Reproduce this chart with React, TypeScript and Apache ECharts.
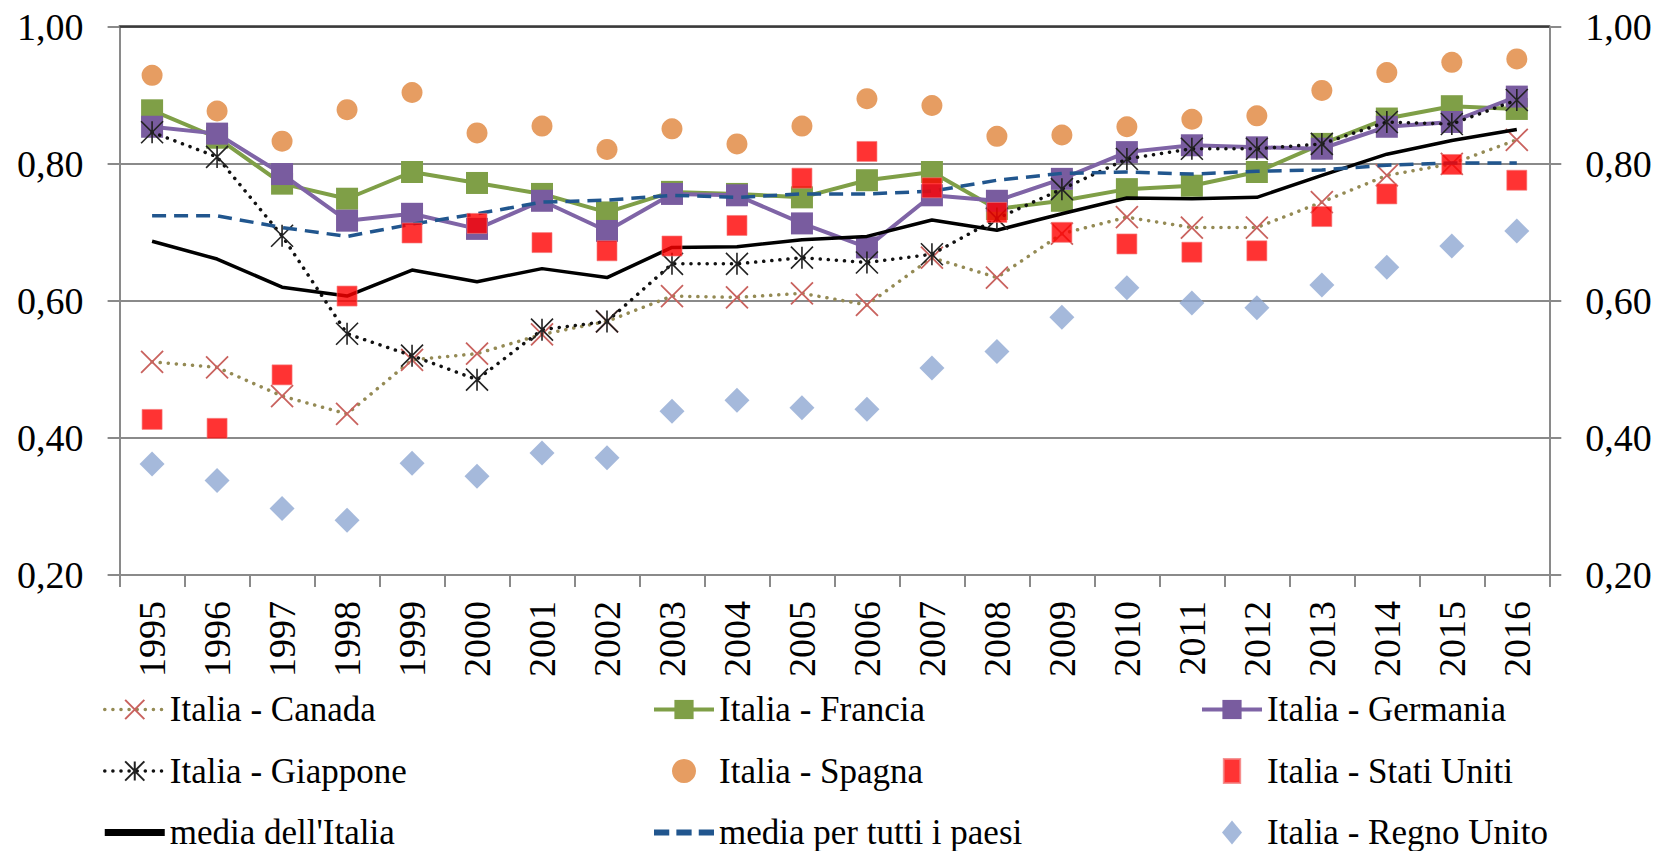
import React, { useEffect, useRef } from "react";
import * as echarts from "echarts";

const years = ["1995","1996","1997","1998","1999","2000","2001","2002","2003","2004","2005","2006","2007","2008","2009","2010","2011","2012","2013","2014","2015","2016"];
const yTicks = [0.2, 0.4, 0.6, 0.8, 1.0];

const canada = [0.511, 0.503, 0.461, 0.435, 0.514, 0.523, 0.551, 0.570, 0.607, 0.605, 0.611, 0.594, 0.663, 0.634, 0.698, 0.722, 0.707, 0.707, 0.744, 0.783, 0.800, 0.835];
const francia = [0.878, 0.838, 0.771, 0.749, 0.788, 0.772, 0.756, 0.729, 0.759, 0.756, 0.751, 0.776, 0.788, 0.734, 0.746, 0.763, 0.768, 0.788, 0.829, 0.866, 0.884, 0.880];
const germania = [0.854, 0.844, 0.785, 0.717, 0.727, 0.705, 0.746, 0.702, 0.756, 0.754, 0.713, 0.678, 0.754, 0.746, 0.778, 0.817, 0.827, 0.824, 0.822, 0.854, 0.861, 0.898];
const giappone = [0.846, 0.810, 0.695, 0.552, 0.520, 0.485, 0.558, 0.570, 0.654, 0.654, 0.663, 0.656, 0.668, 0.720, 0.763, 0.807, 0.822, 0.822, 0.829, 0.861, 0.858, 0.893];
const spagna = [0.929, 0.877, 0.833, 0.879, 0.904, 0.845, 0.855, 0.821, 0.851, 0.829, 0.855, 0.895, 0.885, 0.840, 0.842, 0.854, 0.865, 0.870, 0.907, 0.933, 0.948, 0.953];
const statiUniti = [0.427, 0.414, 0.492, 0.607, 0.699, 0.713, 0.685, 0.673, 0.680, 0.710, 0.779, 0.818, 0.765, 0.729, 0.700, 0.683, 0.671, 0.673, 0.723, 0.756, 0.799, 0.776];
const mediaItalia = [0.687, 0.661, 0.620, 0.607, 0.645, 0.628, 0.647, 0.634, 0.678, 0.679, 0.689, 0.694, 0.718, 0.703, 0.727, 0.750, 0.749, 0.751, 0.783, 0.814, 0.834, 0.850];
const mediaTutti = [0.724, 0.724, 0.707, 0.694, 0.712, 0.727, 0.744, 0.747, 0.754, 0.751, 0.756, 0.756, 0.760, 0.776, 0.786, 0.788, 0.785, 0.789, 0.791, 0.798, 0.801, 0.801];
const regnoUnito = [0.362, 0.338, 0.297, 0.280, 0.363, 0.344, 0.378, 0.371, 0.439, 0.455, 0.444, 0.442, 0.502, 0.526, 0.576, 0.619, 0.597, 0.590, 0.623, 0.649, 0.680, 0.702];

const legendCol1 = ["Italia - Canada", "Italia - Giappone", "media dell'Italia"];
const legendCol2 = ["Italia - Francia", "Italia - Spagna", "media per tutti i paesi"];
const legendCol3 = ["Italia - Germania", "Italia - Stati Uniti", "Italia - Regno Unito"];

const FONT = "Liberation Serif";
const AXIS_GRAY = "#8a8a8a";

const X_PATH = "path://M0,0L10,10M10,0L0,10";
const STAR_PATH = "path://M0,0L10,10M10,0L0,10M5,0L5,10";

const ICONS: Record<string, string> = {
  "media dell'Italia": "path://M0,0h60v7h-60z",
  "media per tutti i paesi": "path://M0,0h15v6h-15zM22,0h15v6h-15zM44,0h15v6h-15z",
  "Italia - Stati Uniti": "path://M0,0h15v22h-15z",
  "Italia - Regno Unito": "path://M10,0L20,12L10,24L0,12z",
  "Italia - Spagna": "circle",
};

const legendData = (names: string[]) =>
  names.map((n) => (ICONS[n] ? { name: n, icon: ICONS[n] } : { name: n }));

export default function App() {
  const ref = useRef<HTMLDivElement>(null);

  useEffect(() => {
    if (!ref.current) return;
    const chart = echarts.init(ref.current, null, { renderer: "svg" });
    const fmt = (v: number) => v.toFixed(2).replace(".", ",");
    const yAxisBase = {
      type: "value",
      min: yTicks[0],
      max: yTicks[yTicks.length - 1],
      interval: 0.2,
      axisLine: { show: true, lineStyle: { color: AXIS_GRAY, width: 2 } },
      axisTick: { show: true, length: 12, lineStyle: { color: AXIS_GRAY, width: 2 } },
      axisLabel: { formatter: fmt, fontSize: 38, fontFamily: FONT, color: "#000", margin: 36 },
    };
    const legendBase = {
      orient: "vertical",
      top: 692,
      itemWidth: 60,
      itemHeight: 24,
      itemGap: 26.5,
      padding: 0,
      symbolKeepAspect: true,
      lineStyle: { width: "inherit" },
      textStyle: { fontSize: 35, fontFamily: FONT, color: "#000" },
    };
    chart.setOption({
      animation: false,
      backgroundColor: "#fff",
      textStyle: { fontFamily: FONT },
      grid: { left: 119.6, right: 119.7, top: 26.7, bottom: 276, containLabel: false },
      xAxis: [
        {
          type: "category",
          data: years,
          position: "bottom",
          boundaryGap: true,
          axisLine: { lineStyle: { color: AXIS_GRAY, width: 2 } },
          axisTick: { show: true, length: 12, lineStyle: { color: AXIS_GRAY, width: 2 } },
          axisLabel: { rotate: 90, margin: 26, fontSize: 38, fontFamily: FONT, color: "#000", interval: 0 },
        },
        {
          type: "category",
          data: years,
          position: "top",
          axisLine: { lineStyle: { color: "#3a3a3a", width: 2.5 } },
          axisTick: { show: false },
          axisLabel: { show: false },
        },
      ],
      yAxis: [
        {
          ...yAxisBase,
          position: "left",
          splitLine: { show: true, lineStyle: { color: AXIS_GRAY, width: 1.8 } },
        },
        {
          ...yAxisBase,
          position: "right",
          splitLine: { show: false },
        },
      ],
      legend: [
        { ...legendBase, left: 103, data: legendData(legendCol1) },
        { ...legendBase, left: 652, data: legendData(legendCol2) },
        { ...legendBase, left: 1200, data: legendData(legendCol3) },
      ],
      series: [
        {
          name: "Italia - Canada",
          type: "line",
          data: canada,
          symbol: X_PATH,
          symbolSize: 22,
          itemStyle: { color: "#C9625E", borderColor: "#C9625E", borderWidth: 1.8 },
          lineStyle: { color: "#948A54", width: 3.5, type: [0.1, 8], cap: "round" },
          z: 2,
        },
        {
          name: "Italia - Francia",
          type: "line",
          data: francia,
          symbol: "rect",
          symbolSize: 22,
          itemStyle: { color: "#7F9F47" },
          lineStyle: { color: "#7F9F47", width: 4 },
          z: 3,
        },
        {
          name: "Italia - Germania",
          type: "line",
          data: germania,
          symbol: "rect",
          symbolSize: 22,
          itemStyle: { color: "#795C9F" },
          lineStyle: { color: "#7F64A6", width: 4 },
          z: 4,
        },
        {
          name: "Italia - Giappone",
          type: "line",
          data: giappone,
          symbol: STAR_PATH,
          symbolSize: 22,
          itemStyle: { color: "#222", borderColor: "#222", borderWidth: 1.6 },
          lineStyle: { color: "#111", width: 3.5, type: [0.1, 8], cap: "round" },
          z: 5,
        },
        {
          name: "Italia - Spagna",
          type: "scatter",
          data: spagna,
          symbol: "circle",
          symbolSize: 21,
          itemStyle: { color: "#E0853B" },
          z: 5,
        },
        {
          name: "media dell'Italia",
          type: "line",
          data: mediaItalia,
          symbol: "none",
          lineStyle: { color: "#000", width: 3.5 },
          itemStyle: { color: "#000" },
          z: 5,
        },
        {
          name: "media per tutti i paesi",
          type: "line",
          data: mediaTutti,
          symbol: "none",
          lineStyle: { color: "#21568E", width: 3.5, type: [14, 8] },
          itemStyle: { color: "#21568E" },
          z: 6,
        },
        {
          name: "Italia - Stati Uniti",
          type: "scatter",
          data: statiUniti,
          symbol: "rect",
          symbolSize: 20,
          itemStyle: { color: "#FF0000", borderColor: "#F47A7A", borderWidth: 0.8 },
          z: 7,
        },
        {
          name: "Italia - Regno Unito",
          type: "scatter",
          data: regnoUnito,
          symbol: "diamond",
          symbolSize: 25,
          itemStyle: { color: "#8EA8D2" },
          z: 7,
        },
      ],
    });
    return () => chart.dispose();
  }, []);

  return (
    <div
      ref={ref}
      style={{ position: "absolute", left: 0, top: 0, width: 1669, height: 851, background: "#fff" }}
    />
  );
}
